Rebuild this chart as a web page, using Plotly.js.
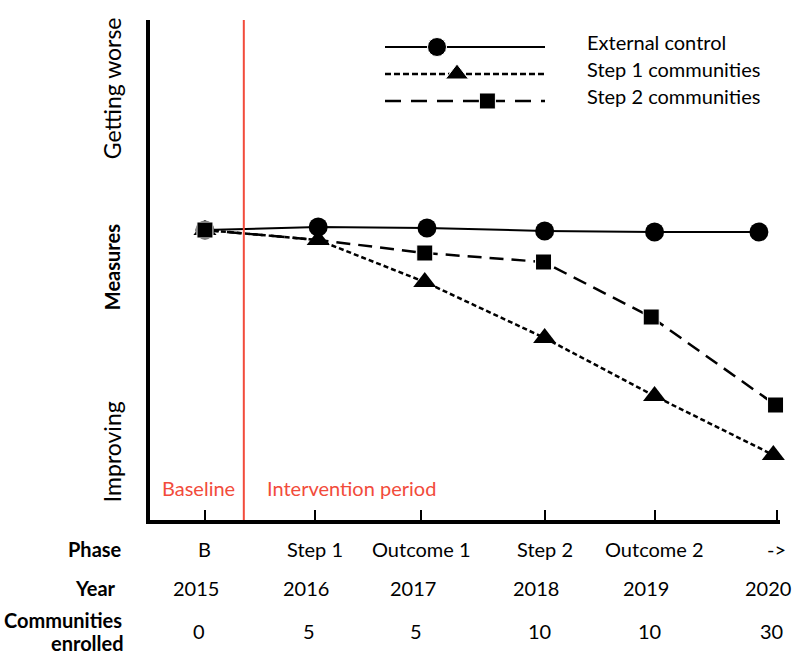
<!DOCTYPE html>
<html>
<head>
<meta charset="utf-8">
<script src="https://cdn.plot.ly/plotly-3.0.1.min.js"></script>
<style>html,body{margin:0;padding:0;background:#fff;}</style>
</head>
<body>
<div id="chart" style="width:803px;height:656px;"></div>
<script>
// ---- data ----
const seriesNames = ["External control", "Step 1 communities", "Step 2 communities"];
const controlX = [2015, 2016.02, 2017, 2018.06, 2019.05, 2019.99];
const controlY = [58, 58.6, 58.4, 57.8, 57.6, 57.6];
const step1X = [2015, 2016.02, 2016.98, 2018.06, 2019.05, 2020.12];
const step1Y = [58, 56, 47.6, 36.4, 24.8, 13];
const step2X = [2015, 2016.02, 2016.98, 2018.05, 2019.02, 2020.14];
const step2Y = [58, 56, 53.4, 51.6, 40.6, 23];
const step2Shown = [true, false, true, true, true, true];
const tickX = [2015, 2015.99, 2016.95, 2018.06, 2019.05, 2020.15];
const phases = ["B", "Step 1", "Outcome 1", "Step 2", "Outcome 2", "->"];
const years = ["2015", "2016", "2017", "2018", "2019", "2020"];
const communities = ["0", "5", "5", "10", "10", "30"];
const interventionStart = 2015.35;

const FONT = "Lato, 'Open Sans', sans-serif";
const RED = "#f24b3b";

const traces = [
  {x: controlX, y: controlY, mode: "lines+markers", name: seriesNames[0],
   line: {color: "#000", width: 2},
   marker: {symbol: "circle", size: 19, color: "#000", opacity: 1}, cliponaxis: false},
  {x: step1X, y: step1Y, mode: "lines+markers", name: seriesNames[1],
   line: {color: "#000", width: 2.5, dash: "5px,3px"},
   marker: {symbol: "triangle-up", size: 20, color: "#000", opacity: 1}, cliponaxis: false},
  {x: step2X, y: step2Y, mode: "lines+markers", name: seriesNames[2],
   line: {color: "#000", width: 2.5, dash: "14px,8px"},
   marker: {symbol: "square", size: step2Shown.map(s => s ? 16 : 0), color: "#000", opacity: 1}, cliponaxis: false},
  // hand-drawn legend on a small overlay axis (rows 3,2,1 from top)
  {x: [0, 0.325, 1], y: [3, 3, 3], xaxis: "x2", yaxis: "y2", mode: "lines+markers",
   line: {color: "#000", width: 2}, marker: {symbol: "circle", size: [0, 19, 0], color: "#000", opacity: 1},
   hoverinfo: "skip", cliponaxis: false},
  {x: [0, 0.45, 1], y: [2, 2, 2], xaxis: "x2", yaxis: "y2", mode: "lines+markers",
   line: {color: "#000", width: 2.5, dash: "6px,3px"}, marker: {symbol: "triangle-up", size: [0, 20, 0], color: "#000", opacity: 1},
   hoverinfo: "skip", cliponaxis: false},
  {x: [0, 0.64, 1], y: [1, 1, 1], xaxis: "x2", yaxis: "y2", mode: "lines+markers",
   line: {color: "#000", width: 2.5, dash: "16px,10px"}, marker: {symbol: "square", size: [0, 16, 0], color: "#000", opacity: 1},
   hoverinfo: "skip", cliponaxis: false}
];

const annotations = [];
function add(text, x, xref, y, opts) {
  annotations.push(Object.assign({text: text, x: x, xref: xref, y: y, yref: "paper",
    showarrow: false, xanchor: "center", yanchor: "middle",
    font: {family: FONT, size: 20, color: "#000"}}, opts || {}));
}
const bold = {family: FONT, size: 20, color: "#000"};
// bottom table
phases.forEach((p, i) => add(p, tickX[i], "x", -0.058));
years.forEach((p, i) => add(p, tickX[i] - 0.08, "x", -0.136));
communities.forEach((p, i) => add(p, tickX[i] - 0.05, "x", -0.222));
add("<b>Phase</b>", -0.087, "paper", -0.058, {font: bold});
add("<b>Year</b>", -0.087, "paper", -0.136, {font: bold});
add("<b>Communities</b>", -0.138, "paper", -0.2, {font: bold});
add("<b>enrolled</b>", -0.1, "paper", -0.245, {font: bold});
// y-axis side labels
add("Getting worse", -0.06, "paper", 0.864, {textangle: -90, font: {family: FONT, size: 23, color: "#000"}});
add("<b>Measures</b>", -0.06, "paper", 0.506, {textangle: -90, font: {family: FONT, size: 20, color: "#000"}});
add("Improving", -0.06, "paper", 0.136, {textangle: -90, font: {family: FONT, size: 23, color: "#000"}});
// period labels
add("Baseline", 0.016, "paper", 0.064, {xanchor: "left", font: {family: FONT, size: 20, color: RED}});
add("Intervention period", 0.183, "paper", 0.064, {xanchor: "left", font: {family: FONT, size: 20, color: RED}});
// legend labels
seriesNames.forEach((n, i) => add(n, 0.69, "paper", [0.956, 0.902, 0.848][i], {xanchor: "left", font: {family: FONT, size: 20, color: "#000"}}));

const layout = {
  width: 803, height: 656,
  margin: {l: 150, r: 23, t: 20, b: 136},
  paper_bgcolor: "#fff", plot_bgcolor: "#fff",
  showlegend: false,
  xaxis: {range: [2014.505, 2020.18], showgrid: false, zeroline: false,
    showline: true, linecolor: "#000", linewidth: 4,
    tickmode: "array", tickvals: tickX, ticks: "inside", ticklen: 10, tickwidth: 2, tickcolor: "#000",
    showticklabels: false, fixedrange: true},
  yaxis: {range: [0, 100], showgrid: false, zeroline: false,
    showline: true, linecolor: "#000", linewidth: 4, ticks: "", showticklabels: false, fixedrange: true},
  xaxis2: {domain: [0.373, 0.627], range: [0, 1], anchor: "y2", visible: false, fixedrange: true},
  yaxis2: {domain: [0.8, 1], range: [0.296, 4.0], anchor: "x2", visible: false, fixedrange: true},
  shapes: [{type: "line", xref: "x", yref: "paper", x0: interventionStart, x1: interventionStart,
    y0: 0, y1: 1, line: {color: RED, width: 2}}],
  annotations: annotations
};

Plotly.newPlot("chart", traces, layout, {displayModeBar: false, staticPlot: true});
</script>
</body>
</html>
